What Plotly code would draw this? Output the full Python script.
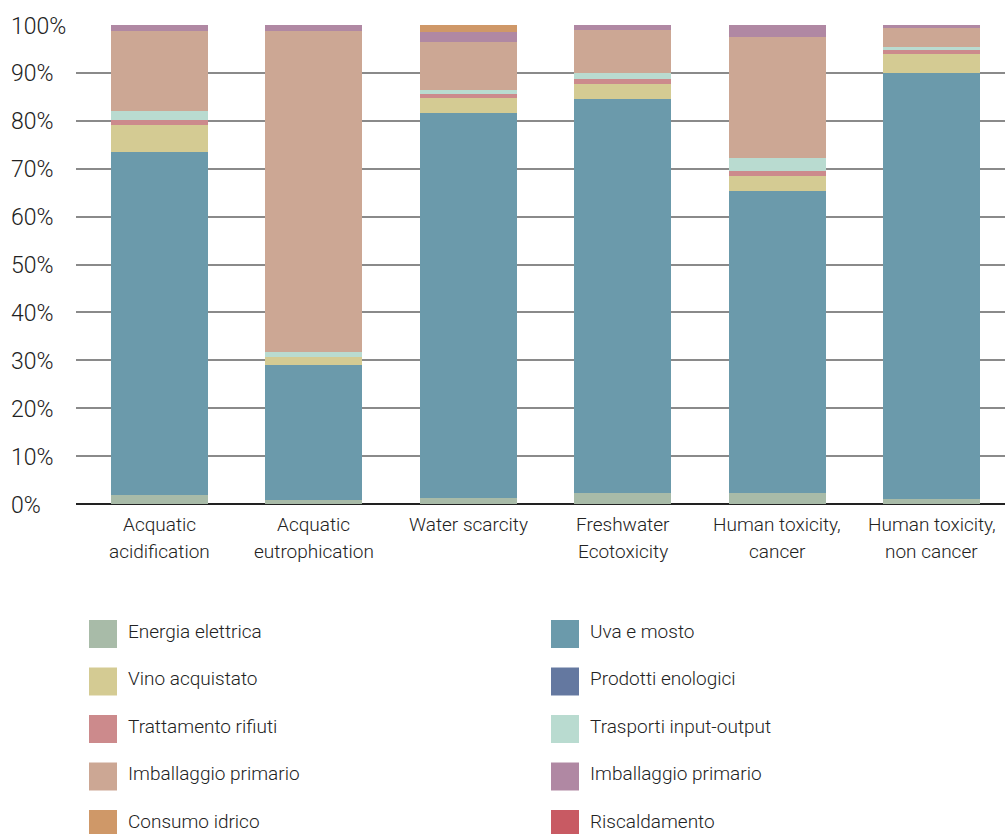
import plotly.graph_objects as go

categories = ["Acquatic<br>acidification", "Acquatic<br>eutrophication", "Water scarcity",
              "Freshwater<br>Ecotoxicity", "Human toxicity,<br>cancer", "Human toxicity,<br>non cancer"]

series_names = ["Energia elettrica", "Uva e mosto", "Vino acquistato", "Prodotti enologici",
                "Trattamento rifiuti", "Trasporti input-output", "Imballaggio primario",
                "Imballaggio primario", "Consumo idrico", "Riscaldamento"]

energia = [1.9, 0.8, 1.25, 2.3, 2.3, 1.0]
uva = [71.6, 28.2, 80.4, 82.2, 63.0, 89.0]
vino = [5.6, 1.7, 3.1, 3.2, 3.2, 3.9]
prodotti = [0.0, 0.0, 0.0, 0.0, 0.0, 0.0]
trattamento = [1.0, 0.0, 0.9, 1.0, 1.0, 0.9]
trasporti = [1.9, 1.0, 0.8, 1.2, 2.7, 0.6]
imballaggio1 = [16.7, 67.0, 10.1, 9.1, 25.3, 4.0]
imballaggio2 = [1.3, 1.3, 2.0, 1.0, 2.5, 0.6]
consumo = [0.0, 0.0, 1.5, 0.0, 0.0, 0.0]
riscaldamento = [0.0, 0.0, 0.0, 0.0, 0.0, 0.0]

series_values = [energia, uva, vino, prodotti, trattamento, trasporti,
                 imballaggio1, imballaggio2, consumo, riscaldamento]
colors = ["#a8bba8", "#6b9aab", "#d4cb93", "#6478a0", "#cc8a8c", "#b9dbd0",
          "#cca794", "#b088a3", "#cf9868", "#c85a63"]

y_ticks = [0, 10, 20, 30, 40, 50, 60, 70, 80, 90, 100]
y_tick_labels = [f"{v}%" for v in y_ticks]

FONT = "Roboto"
W, H = 1005, 834
ML, MR, MT, MB = 76, 0, 25, 330
PW, PH = W - ML - MR, H - MT - MB

fig = go.Figure()
for name, vals, col in zip(series_names, series_values, colors):
    fig.add_trace(go.Bar(x=list(range(len(categories))), y=vals, name=name,
                         marker=dict(color=col, line=dict(width=0)),
                         showlegend=False))

def px_x(px):
    return (px - ML) / PW

def px_y(py):
    return (H - MB - py) / PH

# y tick labels (left aligned) as annotations
for v, lab in zip(y_ticks, y_tick_labels):
    fig.add_annotation(x=px_x(9), xref="paper", y=v, yref="y", text=lab,
                       showarrow=False, xanchor="left", yanchor="middle", yshift=-1,
                       font=dict(family=FONT, size=23, color="#222", weight=300))

# x tick labels, one annotation per line for wider line spacing
for i, cat in enumerate(categories):
    for j, line in enumerate(cat.split("<br>")):
        fig.add_annotation(x=i, xref="x", y=px_y(524 + 27 * j), yref="paper", text=line,
                           showarrow=False, xanchor="center", yanchor="middle",
                           font=dict(family=FONT, size=19, color="#222", weight=300))

# custom legend: two columns
col_x = [89, 551]
row_y0, row_dy = 634, 47.5
sw = 28
for i, (name, col) in enumerate(zip(series_names, colors)):
    c = i % 2
    r = i // 2
    cx = col_x[c]
    cy = row_y0 + r * row_dy
    fig.add_shape(type="rect", xref="paper", yref="paper",
                  x0=px_x(cx), x1=px_x(cx + sw), y0=px_y(cy - sw / 2), y1=px_y(cy + sw / 2),
                  fillcolor=col, line=dict(width=0), layer="above")
    fig.add_annotation(x=px_x(cx + 37), y=px_y(cy - 3), xref="paper", yref="paper",
                       text=name, showarrow=False, xanchor="left", yanchor="middle",
                       font=dict(family=FONT, size=19, color="#222", weight=300))

fig.update_layout(
    barmode="stack",
    bargap=0.372,
    width=W, height=H,
    margin=dict(l=ML, r=MR, t=MT, b=MB, pad=0),
    plot_bgcolor="white", paper_bgcolor="white",
    font=dict(family=FONT, color="#222"),
    hovermode=False,
    xaxis=dict(range=[-0.54, 5.476], showgrid=False, zeroline=False,
               showline=False, ticks="", showticklabels=False),
    yaxis=dict(range=[0, 100], tickvals=y_ticks, showticklabels=False,
               showgrid=True, gridcolor="#8a8a8a", gridwidth=2,
               zeroline=True, zerolinecolor="#222", zerolinewidth=2,
               showline=False, ticks=""),
)

fig.write_html("out.html", config={"displayModeBar": False},
               post_script="document.body.style.margin='0px';document.body.style.overflow='hidden';")
